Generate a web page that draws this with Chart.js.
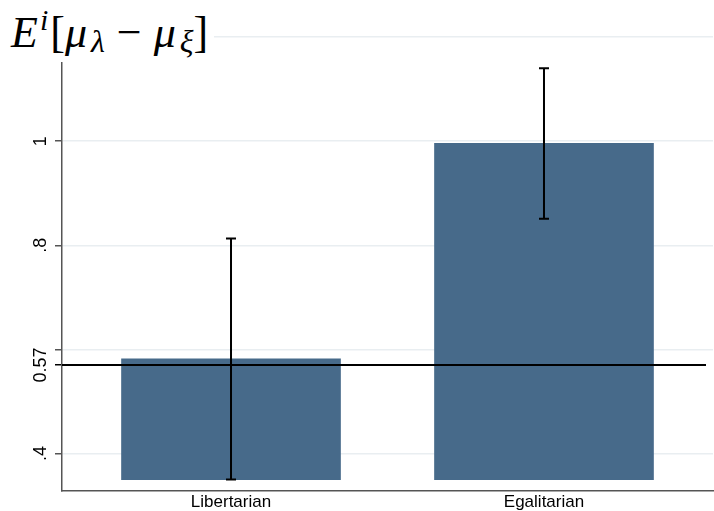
<!DOCTYPE html>
<html>
<head>
<meta charset="utf-8">
<script src="https://cdn.jsdelivr.net/npm/chart.js@4"></script>
<style>
body{margin:0;background:#fff;}
#caja{position:relative;width:714px;height:511px;}
#titulo{position:absolute;left:0;top:0;width:214px;height:62px;background:#fff;
  font-family:'Liberation Serif','DejaVu Serif',serif;font-size:44px;line-height:1;color:#000;}
#titulo span.t{position:absolute;left:11px;top:5px;white-space:nowrap;}
#titulo sup{font-size:30px;vertical-align:17px;margin-left:2px;margin-right:2px;}
#titulo sub{font-size:32px;vertical-align:-5px;margin-left:4px;}
#titulo .m{margin:0 12px;}
</style>
</head>
<body>
<div id="caja">
<canvas id="myChart" width="714" height="511"></canvas>
<div id="titulo"><span class="t"><i>E</i><sup><i>i</i></sup>[<i>μ</i><sub><i>λ</i></sub><span class="m">−</span><i>μ</i><sub><i>ξ</i></sub>]</span></div>
</div>
<script>
var categorias = ['Libertarian','Egalitarian'];
var medias = [0.582, 0.996];
var base = 0.35;
var ic_bajo = [0.350, 0.851];
var ic_alto = [0.813, 1.140];
var linea_ref = 0.57;
var marcas = [0.4, 0.57, 0.6, 0.8, 1.0, 1.2];
var etiquetas = ['.4', '0.57', '', '.8', '1', ''];

var puntos = [];
for (var i = 0; i < categorias.length; i++) {
	puntos.push({x: i + 1, y: [base, medias[i]]});
}

// linea de referencia y barras de error
var extras = {
	id: 'extras',
	afterDatasetsDraw: function(chart) {
		var ctx = chart.ctx;
		var xs = chart.scales.x;
		var ys = chart.scales.y;
		var area = chart.chartArea;
		ctx.save();
		ctx.strokeStyle = '#000';
		ctx.lineWidth = 2;
		var yr = ys.getPixelForValue(linea_ref);
		ctx.beginPath();
		ctx.moveTo(area.left, yr);
		ctx.lineTo(area.right - 7, yr);
		ctx.stroke();
		for (var i = 0; i < categorias.length; i++) {
			var x = xs.getPixelForValue(i + 1);
			var y1 = ys.getPixelForValue(ic_bajo[i]);
			var y2 = ys.getPixelForValue(ic_alto[i]);
			ctx.beginPath();
			ctx.moveTo(x, y1); ctx.lineTo(x, y2);
			ctx.moveTo(x - 5, y1); ctx.lineTo(x + 5, y1);
			ctx.moveTo(x - 5, y2); ctx.lineTo(x + 5, y2);
			ctx.stroke();
		}
		ctx.restore();
	}
};

var myChart = new Chart(document.getElementById('myChart'), {
	type: 'bar',
	data: {
		datasets: [{
			data: puntos,
			backgroundColor: '#476a8a',
			borderWidth: 0,
			barThickness: 219
		}]
	},
	options: {
		responsive: false,
		animation: false,
		layout: {padding: {top: 37, right: 1, left: 0, bottom: 0}},
		plugins: {legend: {display: false}, tooltip: {enabled: false}},
		scales: {
			x: {
				type: 'linear',
				offset: false,
				min: 0.46,
				max: 2.54,
				afterBuildTicks: function(s) { s.ticks = [{value: 1}, {value: 2}]; },
				afterFit: function(s) { s.height = 20; },
				grid: {drawOnChartArea: false, drawTicks: false},
				border: {color: '#555', width: 1.5},
				ticks: {
					color: '#000',
					padding: 1,
					font: {family: "'Liberation Sans', Arial", size: 17},
					callback: function(v) { return categorias[v - 1]; }
				}
			},
			y: {
				min: 0.328,
				max: 1.2,
				afterBuildTicks: function(s) {
					s.ticks = marcas.map(function(m) { return {value: m}; });
				},
				afterFit: function(s) { s.width = 62; },
				grid: {
					color: function(c) { return c.tick && c.tick.value === linea_ref ? 'rgba(0,0,0,0)' : '#e9eef1'; },
					tickColor: function(c) { return c.tick && c.tick.value === linea_ref ? '#000' : '#555'; },
					tickLength: 7,
					lineWidth: 1.5
				},
				border: {color: '#555', width: 1.5},
				ticks: {
					color: '#000',
					minRotation: 90,
					maxRotation: 90,
					crossAlign: 'center',
					padding: -4,
					font: {family: "'Liberation Sans', Arial", size: 18},
					callback: function(v, idx) { return etiquetas[idx]; }
				}
			}
		}
	},
	plugins: [extras]
});
</script>
</body>
</html>
